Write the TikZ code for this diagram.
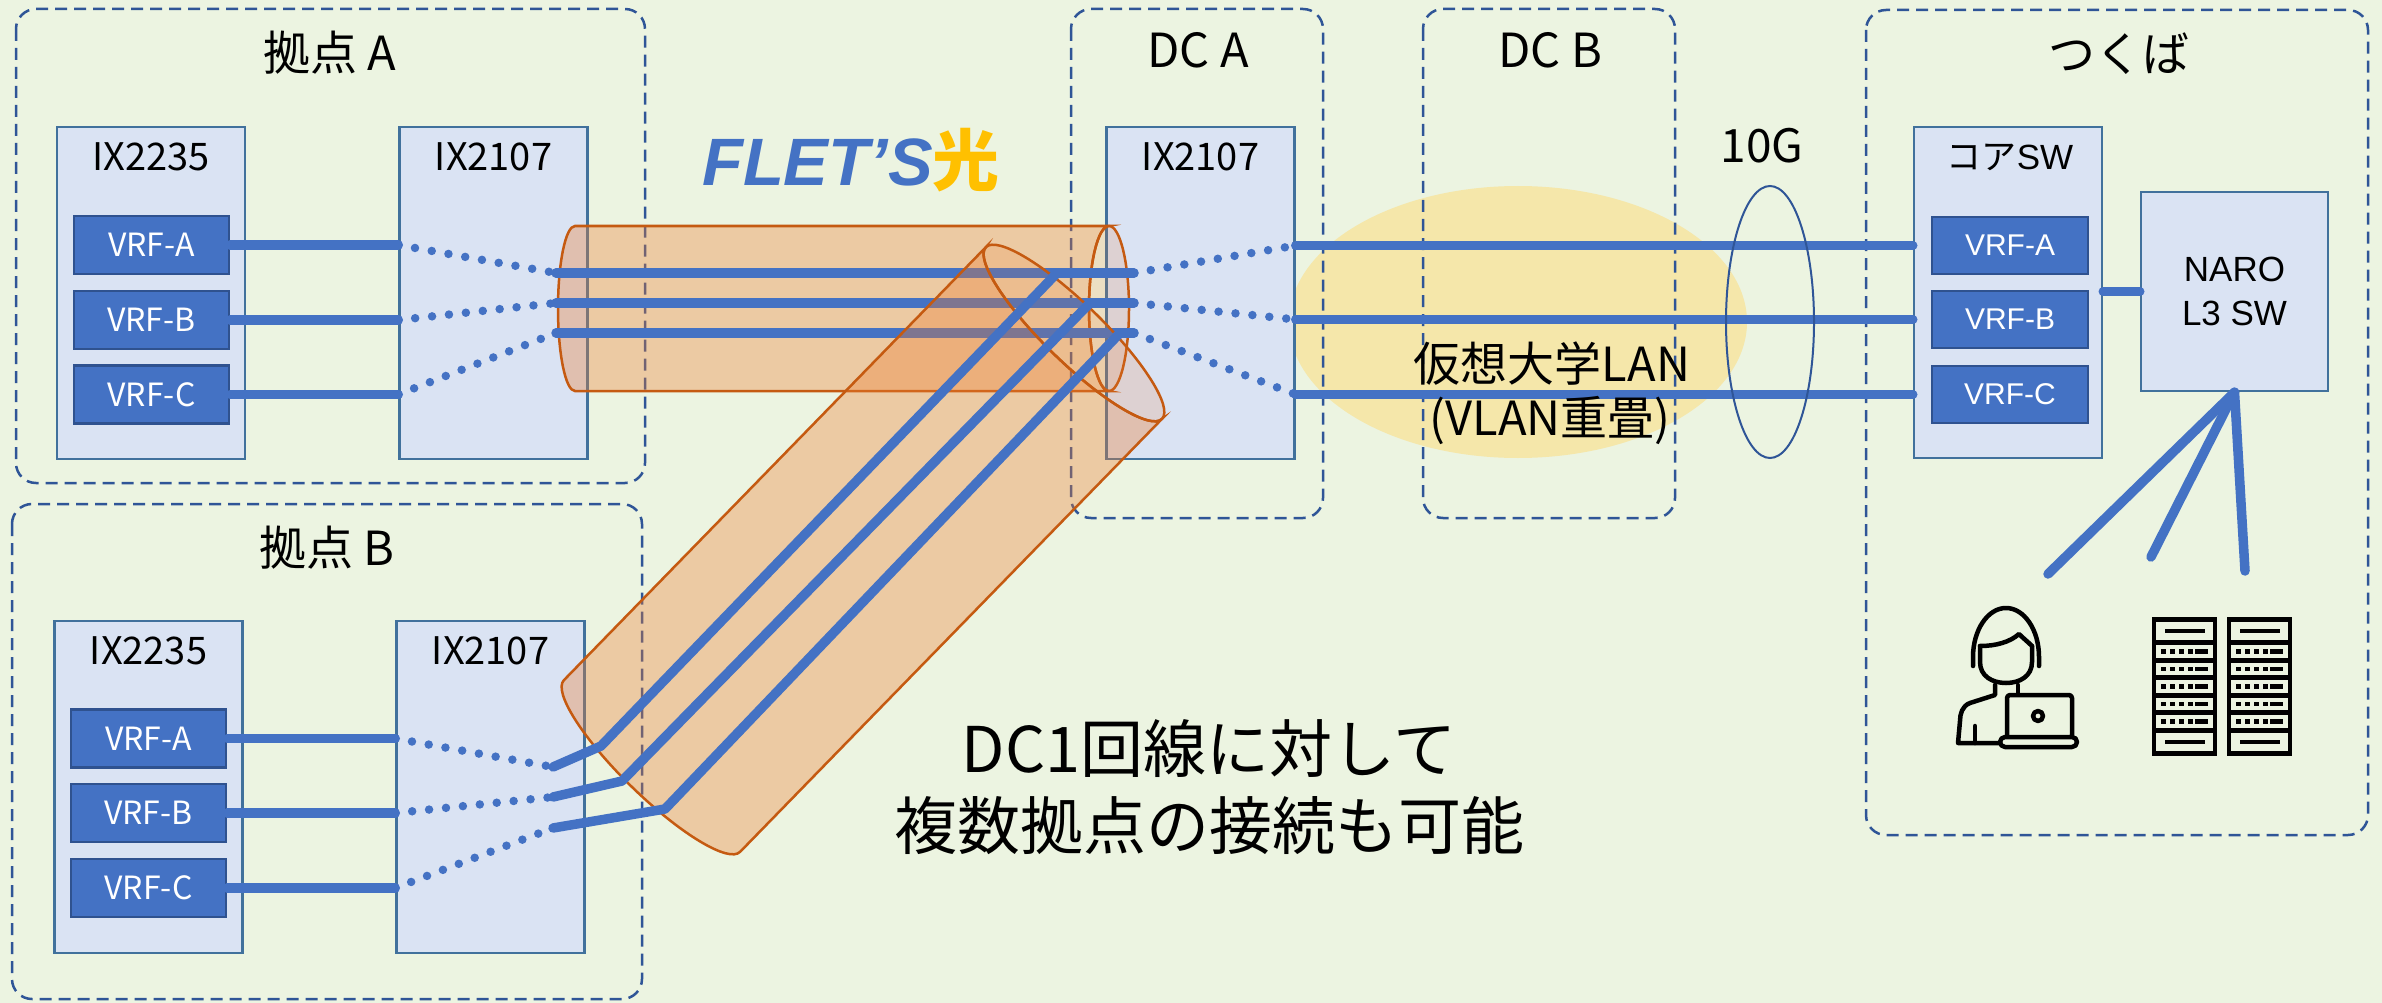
\documentclass[tikz,border=0pt]{standalone}
\usepackage{fontspec}
\setmainfont{Noto Sans CJK JP}
\newfontfamily\arialfont{Liberation Sans}
\usetikzlibrary{positioning}

\definecolor{bgGreen}{RGB}{236,244,225}
\definecolor{siteLine}{RGB}{47,85,151}
\definecolor{ixFill}{RGB}{218,227,243}
\definecolor{ixLine}{RGB}{65,113,156}
\definecolor{vrfFill}{RGB}{68,114,196}
\definecolor{vrfLine}{RGB}{47,82,143}
\definecolor{tubeFill}{RGB}{237,125,49}
\definecolor{tubeLine}{RGB}{197,90,17}
\definecolor{lanYellow}{RGB}{245,231,170}
\definecolor{hikari}{RGB}{255,192,0}

\tikzset{
	site/.style={draw=siteLine, line width=2.5pt, dash pattern=on 12pt off 7pt, rounded corners=20pt},
	ixbox/.style={draw=ixLine, line width=2.5pt, fill=ixFill, minimum width=188pt, minimum height=332pt, inner sep=0pt},
	vrf/.style={draw=vrfLine, line width=2.5pt, fill=vrfFill, text=white, minimum width=155pt, minimum height=58pt, inner sep=0pt, font=\fontsize{32}{36}\selectfont},
	vrfR/.style={vrf, minimum width=156pt, minimum height=57pt, font=\arialfont\fontsize{30}{34}\selectfont},
	title/.style={font=\fontsize{47}{52}\selectfont},
	devname/.style={font=\fontsize{38}{40}\selectfont},
	link/.style={draw=vrfFill, line width=9.5pt, line cap=round, line join=round},
	vpn/.style={draw=vrfFill, line width=8.5pt, line cap=round, dash pattern=on 0pt off 17pt},
	tube/.style={fill=tubeFill, fill opacity=0.35, draw=tubeLine, line width=2.5pt},
	tubecap/.style={fill=tubeFill, fill opacity=0.17, draw=tubeLine, line width=2.5pt},
	icon/.style={draw=black, line width=4.5pt, line cap=round, line join=round},
}

\begin{document}
\begin{tikzpicture}[x=1pt, y=-1pt]
	\useasboundingbox (0,0) rectangle (2382,1003);
	\fill[bgGreen] (0,0) rectangle (2382,1003);

	% 仮想大学LAN
	\fill[lanYellow] (1518,322) ellipse [x radius=229, y radius=136];

	% sites
	\draw[site] (16,9) rectangle (645,483);
	\draw[site] (12,504) rectangle (642,999);
	\draw[site] (1071,9) rectangle (1323,518);
	\draw[site] (1423,9) rectangle (1675,518);
	\draw[site] (1866,10) rectangle (2368,835);
	\node[title] (siteA) at (330,53) {拠点 A};
	\node[title] (siteB) at (327,548) {拠点 B};
	\node[title] (dcA) at (1198,50) {DC A};
	\node[title] (dcB) at (1550,50) {DC B};
	\node[title] (tsukuba) at (2119,54) {つくば};

	% 拠点 A
	\node[ixbox] (aIx2235) at (151,293) {};
	\node[ixbox] (aIx2107) at (493.5,293) {};
	\node[devname] (aIx2235Name) at ([yshift=-31pt]aIx2235.north) {IX2235};
	\node[devname] (aIx2107Name) at ([yshift=-31pt]aIx2107.north) {IX2107};
	\node[vrf] (aVrfA) at (151.5,245) {VRF-A};
	\node[vrf] (aVrfB) at (151.5,320) {VRF-B};
	\node[vrf] (aVrfC) at (151.5,394.5) {VRF-C};

	% 拠点 B
	\node[ixbox] (bIx2235) at (148.5,787) {};
	\node[ixbox] (bIx2107) at (490.5,787) {};
	\node[devname] (bIx2235Name) at ([yshift=-31pt]bIx2235.north) {IX2235};
	\node[devname] (bIx2107Name) at ([yshift=-31pt]bIx2107.north) {IX2107};
	\node[vrf] (bVrfA) at (148.5,738.5) {VRF-A};
	\node[vrf] (bVrfB) at (148.5,813) {VRF-B};
	\node[vrf] (bVrfC) at (148.5,888) {VRF-C};

	% DC A
	\node[ixbox] (dcIx) at (1200.5,293) {};
	\node[devname] (dcIxName) at ([yshift=-31pt]dcIx.north) {IX2107};

	% つくば
	\node[ixbox, minimum height=331pt] (core) at (2008,292.5) {};
	\node[font=\fontsize{35}{38}\selectfont] (coreName) at (2010,157) {コア{\arialfont SW}};
	\node[vrfR] (tVrfA) at (2010,245.5) {VRF-A};
	\node[vrfR] (tVrfB) at (2010,319.5) {VRF-B};
	\node[vrfR] (tVrfC) at (2010,394.5) {VRF-C};
	\node[ixbox, minimum width=187pt, minimum height=199pt, align=center, font=\arialfont\fontsize{35}{44}\selectfont] (naro) at (2234.5,291.5) {NARO\\L3 SW};

	% VRF -> IX2107
	\draw[link] (aVrfA.east) -- (aVrfA.east -| aIx2107.west);
	\draw[link] (aVrfB.east) -- (aVrfB.east -| aIx2107.west);
	\draw[link] (aVrfC.east) -- (aVrfC.east -| aIx2107.west);
	\draw[link] (bVrfA.east) -- (bVrfA.east -| bIx2107.west);
	\draw[link] (bVrfB.east) -- (bVrfB.east -| bIx2107.west);
	\draw[link] (bVrfC.east) -- (bVrfC.east -| bIx2107.west);

	% tunnel ends
	\coordinate (inA) at (556,273);
	\coordinate (inB) at (556,303);
	\coordinate (inC) at (556,333);
	\coordinate (outA) at (1134,273);
	\coordinate (outB) at (1134,303);
	\coordinate (outC) at (1134,333);
	\coordinate (joinA) at (1057,273);
	\coordinate (joinB) at (1090,303);
	\coordinate (joinC) at (1120,333);
	\coordinate (bendA) at (601,746);
	\coordinate (bendB) at (622,781);
	\coordinate (bendC) at (665,809);
	\coordinate (endA) at (553,767);
	\coordinate (endB) at (553,797);
	\coordinate (endC) at (553,828);

	% FLET'S tube, 拠点 A -- DC A
	\draw[tube] (575,226) -- (1109,226) arc[start angle=-90, end angle=-270, x radius=20, y radius=82.5]
		-- (575,391) arc[start angle=90, end angle=270, x radius=17, y radius=82.5] -- cycle;
	\draw[tubecap] (1109,308.5) ellipse [x radius=20, y radius=82.5];
	\draw[link] (inA) -- (outA);
	\draw[link] (inB) -- (outB);
	\draw[link] (inC) -- (outC);

	\draw[vpn] (aVrfA.east -| aIx2107.west) -- (inA);
	\draw[vpn] (aVrfB.east -| aIx2107.west) -- (inB);
	\draw[vpn] (aVrfC.east -| aIx2107.west) -- (inC);
	\draw[vpn] (outA) -- (tVrfA -| dcIx.east);
	\draw[vpn] (outB) -- (tVrfB -| dcIx.east);
	\draw[vpn] (outC) -- (tVrfC -| dcIx.east);
	\draw[vpn] (bVrfA.east -| bIx2107.west) -- (endA);
	\draw[vpn] (bVrfB.east -| bIx2107.west) -- (endB);
	\draw[vpn] (bVrfC.east -| bIx2107.west) -- (endC);

	% FLET'S tube, 拠点 B -- DC A
	\begin{scope}[shift={(652,766)}, y=1pt, rotate=45.74]
		\draw[tube] (0,123) -- (604.6,123) arc[start angle=90, end angle=270, x radius=29, y radius=123]
			-- (0,-123) arc[start angle=-90, end angle=-270, x radius=29, y radius=123] -- cycle;
		\draw[tubecap] (604.6,0) ellipse [x radius=29, y radius=123];
	\end{scope}
	\draw[link] (endA) -- (bendA) -- (joinA);
	\draw[link] (endB) -- (bendB) -- (joinB);
	\draw[link] (endC) -- (bendC) -- (joinC);

	% DC A -> つくば
	\draw[link] (tVrfA -| dcIx.east) -- (tVrfA -| core.west);
	\draw[link] (tVrfB -| dcIx.east) -- (tVrfB -| core.west);
	\draw[link] (tVrfC -| dcIx.east) -- (tVrfC -| core.west);
	\draw[draw=siteLine, line width=2pt] (1770,322) ellipse [x radius=44, y radius=136];
	\node[font=\fontsize{46}{50}\selectfont] (tenG) at (1762,146) {10G};

	\draw[link] (core.east |- naro.west) -- (naro.west);
	\coordinate (userLink) at (2048,574);
	\coordinate (rackLinkA) at (2151,557);
	\coordinate (rackLinkB) at (2245,571);
	\draw[link] (naro.south) -- (userLink);
	\draw[link] (naro.south) -- (rackLinkA);
	\draw[link] (naro.south) -- (rackLinkB);

	% user with laptop
	\coordinate (user) at (1958,606);
	\begin{scope}[shift={(user)}]
		\draw[icon] (15,60) -- (15,51) arc[start angle=180, end angle=360, x radius=33, y radius=49] -- (81,60);
		\draw[icon] (22,40) -- (22,56) .. controls (22,70) and (34,77) .. (48,77) .. controls (62,77) and (74,70) .. (74,56) -- (74,40);
		\draw[icon] (22,40) .. controls (38,40) and (52,36) .. (61,28) .. controls (65,32) and (70,36) .. (74,40);
		\draw[icon] (37,79) -- (37,89) -- (12,97) .. controls (4,100) and (2,108) .. (2,115) -- (0,137) -- (44,137);
		\draw[icon] (60,79) -- (60,88);
		\draw[icon] (17,120) -- (17,137);
		\draw[icon, fill=bgGreen, rounded corners=3pt] (49,89) rectangle (114,132);
		\draw[icon] (80,110) circle [radius=5];
		\draw[icon, fill=bgGreen, rounded corners=5pt] (42,131) rectangle (119,141);
	\end{scope}

	% server racks
	\coordinate (racks) at (2152,617);
	\begin{scope}[shift={(racks)}]
		\foreach \dx in {0,75} {
			\fill[black] (\dx,0) rectangle (\dx+65,139);
			\fill[bgGreen] (\dx+4,5) rectangle (\dx+61,23);
			\fill[bgGreen] (\dx+4,116) rectangle (\dx+61,134);
			\draw[black, line width=3.5pt] (\dx+13,14) -- (\dx+53,14);
			\draw[black, line width=3.5pt] (\dx+13,125) -- (\dx+53,125);
			\foreach \y in {28,45.5,63,80.5,98} {
				\fill[bgGreen] (\dx+4,\y) rectangle (\dx+61,\y+12.5);
				\foreach \px in {9,18,27,36}
					\fill[black] (\dx+\px,\y+4) rectangle (\dx+\px+4.5,\y+8.5);
				\fill[black] (\dx+43,\y+4) rectangle (\dx+56,\y+8.5);
			}
		}
	\end{scope}

	% labels
	\node[font=\arialfont\bfseries\itshape\fontsize{67}{70}\selectfont, text=vrfFill] (flets) at (851,160)
		{FLET’S{\rmfamily\bfseries\upshape\color{hikari}光}};
	\node[title] (vLan) at (1552,364) {仮想大学LAN};
	\node[title] (vLanSub) at (1550,421) {(VLAN重畳)};
	\node[align=center, font=\fontsize{63}{77}\selectfont] (note) at (1209,787.5) {DC1回線に対して\\複数拠点の接続も可能};
\end{tikzpicture}
\end{document}
